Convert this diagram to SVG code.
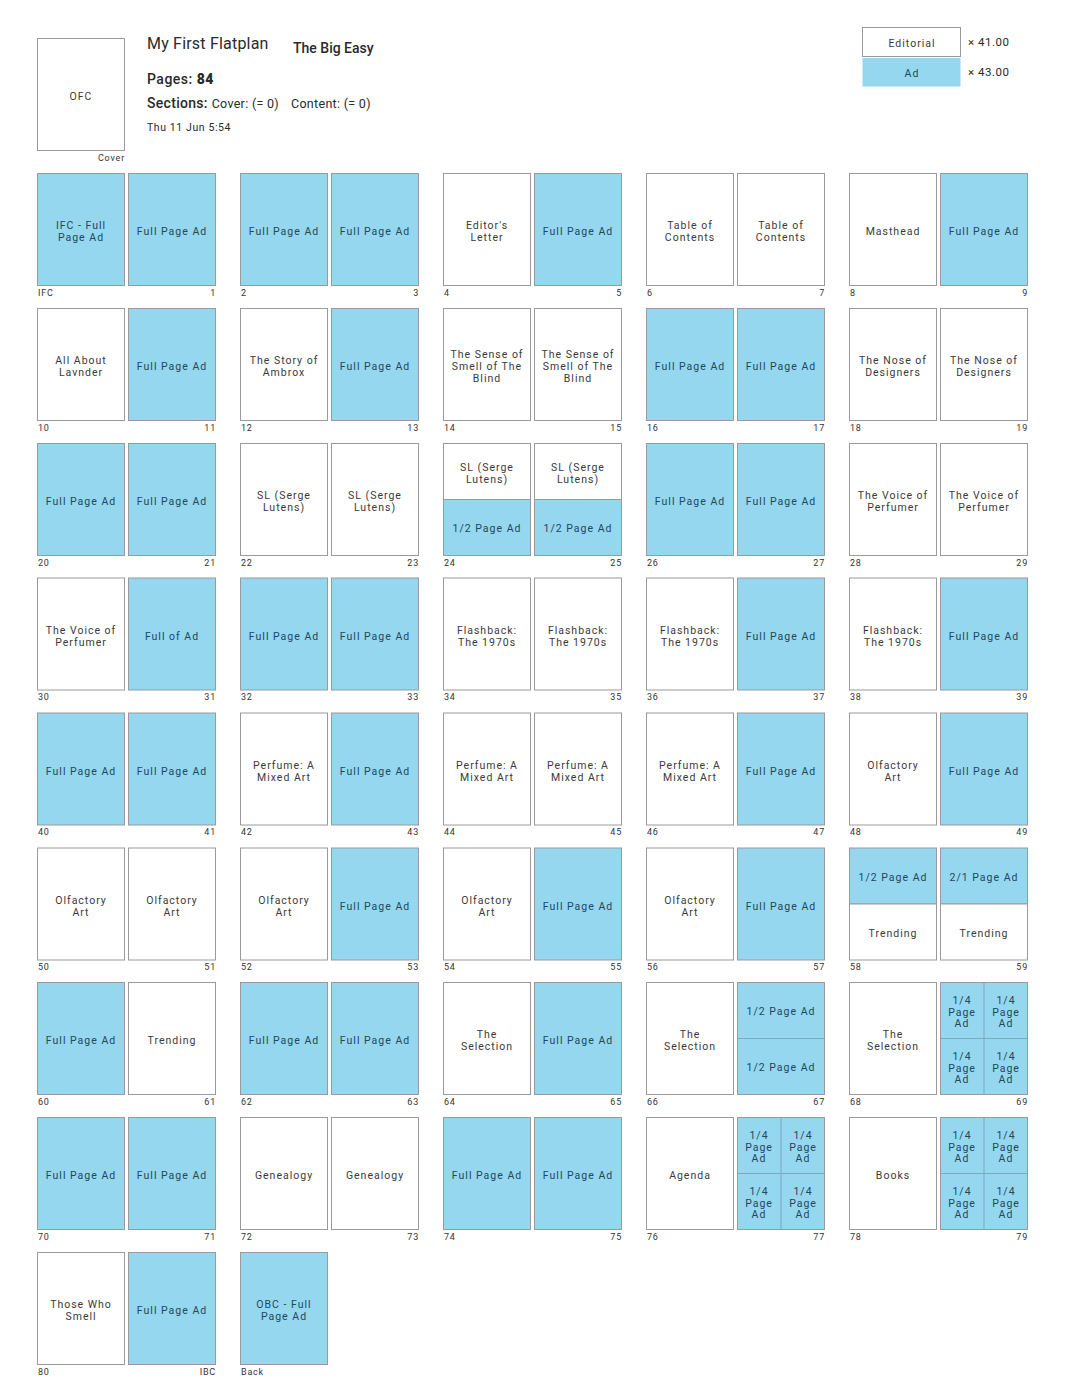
<svg xmlns="http://www.w3.org/2000/svg" width="1087" height="1392" viewBox="0 0 1087 1392">
<style>
.e{fill:#fff;stroke:#9a9a9a;stroke-width:1}
.a{fill:#94d7ef;stroke:#9a9a9a;stroke-width:1}
.d{stroke:#7aaabf;stroke-width:1}
.t{font-family:Roboto,"Liberation Sans",sans-serif;font-size:10.5px;letter-spacing:1px;text-anchor:middle}
.te{fill:#3a3a3a}
.ta{fill:#22485c}
.n{font-family:Roboto,"Liberation Sans",sans-serif;font-size:9px;letter-spacing:0.8px;fill:#333}
.r{text-anchor:end}
.h{font-family:Roboto,"Liberation Sans",sans-serif;fill:#2a2a2a}
</style>
<rect width="1087" height="1392" fill="#fff"/>
<g id="header">
<text class="h" x="147" y="48.5" font-size="16" letter-spacing="0.2">My First Flatplan</text>
<text class="h" x="293" y="53" font-size="14" font-weight="500">The Big Easy</text>
<text class="h" x="147" y="84" font-size="14" font-weight="500" letter-spacing="0.5">Pages: <tspan font-weight="900">84</tspan></text>
<text class="h" x="147" y="107.5" font-size="14" font-weight="500" letter-spacing="0.3">Sections: <tspan font-size="12.5" font-weight="400">Cover: (= 0)</tspan><tspan x="291" font-size="12.5" font-weight="400">Content: (= 0)</tspan></text>
<text class="h" x="147" y="131" font-size="10.5" letter-spacing="0.6">Thu 11 Jun 5:54</text>
</g>
<g id="legend">
<rect class="e" x="862.5" y="27.5" width="98" height="29"/>
<text class="t te" x="912" y="46.5" font-size="11">Editorial</text>
<rect x="862.5" y="58" width="98" height="28.5" fill="#94d7ef"/>
<text class="t ta" x="912" y="76.5" font-size="11">Ad</text>
<text class="h" x="968" y="46" font-size="11.5" letter-spacing="0.5">× 41.00</text>
<text class="h" x="968" y="76" font-size="11.5" letter-spacing="0.5">× 43.00</text>
</g>
<g id="page-OFC">
<rect class="e" x="37.5" y="38.5" width="87" height="112"/>
<text class="t te" x="81" y="100">OFC</text>
<text class="n r" x="125" y="160.5">Cover</text>
</g>

<!-- Row 0 -->
<g id="page-IFC"><rect class="a" x="37.5" y="173.5" width="87" height="112"/><text class="t ta" x="81" y="229">IFC - Full</text><text class="t ta" x="81" y="241">Page Ad</text><text class="n" x="38" y="295.5">IFC</text></g>
<g id="page-1"><rect class="a" x="128.5" y="173.5" width="87" height="112"/><text class="t ta" x="172" y="235">Full Page Ad</text><text class="n r" x="216" y="295.5">1</text></g>
<g id="page-2"><rect class="a" x="240.5" y="173.5" width="87" height="112"/><text class="t ta" x="284" y="235">Full Page Ad</text><text class="n" x="241" y="295.5">2</text></g>
<g id="page-3"><rect class="a" x="331.5" y="173.5" width="87" height="112"/><text class="t ta" x="375" y="235">Full Page Ad</text><text class="n r" x="419" y="295.5">3</text></g>
<g id="page-4"><rect class="e" x="443.5" y="173.5" width="87" height="112"/><text class="t te" x="487" y="229">Editor's</text><text class="t te" x="487" y="241">Letter</text><text class="n" x="444" y="295.5">4</text></g>
<g id="page-5"><rect class="a" x="534.5" y="173.5" width="87" height="112"/><text class="t ta" x="578" y="235">Full Page Ad</text><text class="n r" x="622" y="295.5">5</text></g>
<g id="page-6"><rect class="e" x="646.5" y="173.5" width="87" height="112"/><text class="t te" x="690" y="229">Table of</text><text class="t te" x="690" y="241">Contents</text><text class="n" x="647" y="295.5">6</text></g>
<g id="page-7"><rect class="e" x="737.5" y="173.5" width="87" height="112"/><text class="t te" x="781" y="229">Table of</text><text class="t te" x="781" y="241">Contents</text><text class="n r" x="825" y="295.5">7</text></g>
<g id="page-8"><rect class="e" x="849.5" y="173.5" width="87" height="112"/><text class="t te" x="893" y="235">Masthead</text><text class="n" x="850" y="295.5">8</text></g>
<g id="page-9"><rect class="a" x="940.5" y="173.5" width="87" height="112"/><text class="t ta" x="984" y="235">Full Page Ad</text><text class="n r" x="1028" y="295.5">9</text></g>

<!-- Row 1 -->
<g id="page-10"><rect class="e" x="37.5" y="308.5" width="87" height="112"/><text class="t te" x="81" y="364">All About</text><text class="t te" x="81" y="376">Lavnder</text><text class="n" x="38" y="430.5">10</text></g>
<g id="page-11"><rect class="a" x="128.5" y="308.5" width="87" height="112"/><text class="t ta" x="172" y="370">Full Page Ad</text><text class="n r" x="216" y="430.5">11</text></g>
<g id="page-12"><rect class="e" x="240.5" y="308.5" width="87" height="112"/><text class="t te" x="284" y="364">The Story of</text><text class="t te" x="284" y="376">Ambrox</text><text class="n" x="241" y="430.5">12</text></g>
<g id="page-13"><rect class="a" x="331.5" y="308.5" width="87" height="112"/><text class="t ta" x="375" y="370">Full Page Ad</text><text class="n r" x="419" y="430.5">13</text></g>
<g id="page-14"><rect class="e" x="443.5" y="308.5" width="87" height="112"/><text class="t te" x="487" y="358">The Sense of</text><text class="t te" x="487" y="370">Smell of The</text><text class="t te" x="487" y="382">Blind</text><text class="n" x="444" y="430.5">14</text></g>
<g id="page-15"><rect class="e" x="534.5" y="308.5" width="87" height="112"/><text class="t te" x="578" y="358">The Sense of</text><text class="t te" x="578" y="370">Smell of The</text><text class="t te" x="578" y="382">Blind</text><text class="n r" x="622" y="430.5">15</text></g>
<g id="page-16"><rect class="a" x="646.5" y="308.5" width="87" height="112"/><text class="t ta" x="690" y="370">Full Page Ad</text><text class="n" x="647" y="430.5">16</text></g>
<g id="page-17"><rect class="a" x="737.5" y="308.5" width="87" height="112"/><text class="t ta" x="781" y="370">Full Page Ad</text><text class="n r" x="825" y="430.5">17</text></g>
<g id="page-18"><rect class="e" x="849.5" y="308.5" width="87" height="112"/><text class="t te" x="893" y="364">The Nose of</text><text class="t te" x="893" y="376">Designers</text><text class="n" x="850" y="430.5">18</text></g>
<g id="page-19"><rect class="e" x="940.5" y="308.5" width="87" height="112"/><text class="t te" x="984" y="364">The Nose of</text><text class="t te" x="984" y="376">Designers</text><text class="n r" x="1028" y="430.5">19</text></g>

<!-- Row 2 -->
<g id="page-20"><rect class="a" x="37.5" y="443.5" width="87" height="112"/><text class="t ta" x="81" y="505">Full Page Ad</text><text class="n" x="38" y="565.5">20</text></g>
<g id="page-21"><rect class="a" x="128.5" y="443.5" width="87" height="112"/><text class="t ta" x="172" y="505">Full Page Ad</text><text class="n r" x="216" y="565.5">21</text></g>
<g id="page-22"><rect class="e" x="240.5" y="443.5" width="87" height="112"/><text class="t te" x="284" y="499">SL (Serge</text><text class="t te" x="284" y="511">Lutens)</text><text class="n" x="241" y="565.5">22</text></g>
<g id="page-23"><rect class="e" x="331.5" y="443.5" width="87" height="112"/><text class="t te" x="375" y="499">SL (Serge</text><text class="t te" x="375" y="511">Lutens)</text><text class="n r" x="419" y="565.5">23</text></g>
<g id="page-24"><rect class="e" x="443.5" y="443.5" width="87" height="56"/><rect class="a" x="443.5" y="499.5" width="87" height="56"/><text class="t te" x="487" y="471">SL (Serge</text><text class="t te" x="487" y="483">Lutens)</text><text class="t ta" x="487" y="532">1/2 Page Ad</text><text class="n" x="444" y="565.5">24</text></g>
<g id="page-25"><rect class="e" x="534.5" y="443.5" width="87" height="56"/><rect class="a" x="534.5" y="499.5" width="87" height="56"/><text class="t te" x="578" y="471">SL (Serge</text><text class="t te" x="578" y="483">Lutens)</text><text class="t ta" x="578" y="532">1/2 Page Ad</text><text class="n r" x="622" y="565.5">25</text></g>
<g id="page-26"><rect class="a" x="646.5" y="443.5" width="87" height="112"/><text class="t ta" x="690" y="505">Full Page Ad</text><text class="n" x="647" y="565.5">26</text></g>
<g id="page-27"><rect class="a" x="737.5" y="443.5" width="87" height="112"/><text class="t ta" x="781" y="505">Full Page Ad</text><text class="n r" x="825" y="565.5">27</text></g>
<g id="page-28"><rect class="e" x="849.5" y="443.5" width="87" height="112"/><text class="t te" x="893" y="499">The Voice of</text><text class="t te" x="893" y="511">Perfumer</text><text class="n" x="850" y="565.5">28</text></g>
<g id="page-29"><rect class="e" x="940.5" y="443.5" width="87" height="112"/><text class="t te" x="984" y="499">The Voice of</text><text class="t te" x="984" y="511">Perfumer</text><text class="n r" x="1028" y="565.5">29</text></g>

<!-- Row 3 -->
<g id="page-30"><rect class="e" x="37.5" y="578" width="87" height="112"/><text class="t te" x="81" y="633.5">The Voice of</text><text class="t te" x="81" y="645.5">Perfumer</text><text class="n" x="38" y="700">30</text></g>
<g id="page-31"><rect class="a" x="128.5" y="578" width="87" height="112"/><text class="t ta" x="172" y="639.5">Full of Ad</text><text class="n r" x="216" y="700">31</text></g>
<g id="page-32"><rect class="a" x="240.5" y="578" width="87" height="112"/><text class="t ta" x="284" y="639.5">Full Page Ad</text><text class="n" x="241" y="700">32</text></g>
<g id="page-33"><rect class="a" x="331.5" y="578" width="87" height="112"/><text class="t ta" x="375" y="639.5">Full Page Ad</text><text class="n r" x="419" y="700">33</text></g>
<g id="page-34"><rect class="e" x="443.5" y="578" width="87" height="112"/><text class="t te" x="487" y="633.5">Flashback:</text><text class="t te" x="487" y="645.5">The 1970s</text><text class="n" x="444" y="700">34</text></g>
<g id="page-35"><rect class="e" x="534.5" y="578" width="87" height="112"/><text class="t te" x="578" y="633.5">Flashback:</text><text class="t te" x="578" y="645.5">The 1970s</text><text class="n r" x="622" y="700">35</text></g>
<g id="page-36"><rect class="e" x="646.5" y="578" width="87" height="112"/><text class="t te" x="690" y="633.5">Flashback:</text><text class="t te" x="690" y="645.5">The 1970s</text><text class="n" x="647" y="700">36</text></g>
<g id="page-37"><rect class="a" x="737.5" y="578" width="87" height="112"/><text class="t ta" x="781" y="639.5">Full Page Ad</text><text class="n r" x="825" y="700">37</text></g>
<g id="page-38"><rect class="e" x="849.5" y="578" width="87" height="112"/><text class="t te" x="893" y="633.5">Flashback:</text><text class="t te" x="893" y="645.5">The 1970s</text><text class="n" x="850" y="700">38</text></g>
<g id="page-39"><rect class="a" x="940.5" y="578" width="87" height="112"/><text class="t ta" x="984" y="639.5">Full Page Ad</text><text class="n r" x="1028" y="700">39</text></g>

<!-- Row 4 -->
<g id="page-40"><rect class="a" x="37.5" y="713" width="87" height="112"/><text class="t ta" x="81" y="774.5">Full Page Ad</text><text class="n" x="38" y="835">40</text></g>
<g id="page-41"><rect class="a" x="128.5" y="713" width="87" height="112"/><text class="t ta" x="172" y="774.5">Full Page Ad</text><text class="n r" x="216" y="835">41</text></g>
<g id="page-42"><rect class="e" x="240.5" y="713" width="87" height="112"/><text class="t te" x="284" y="768.5">Perfume: A</text><text class="t te" x="284" y="780.5">Mixed Art</text><text class="n" x="241" y="835">42</text></g>
<g id="page-43"><rect class="a" x="331.5" y="713" width="87" height="112"/><text class="t ta" x="375" y="774.5">Full Page Ad</text><text class="n r" x="419" y="835">43</text></g>
<g id="page-44"><rect class="e" x="443.5" y="713" width="87" height="112"/><text class="t te" x="487" y="768.5">Perfume: A</text><text class="t te" x="487" y="780.5">Mixed Art</text><text class="n" x="444" y="835">44</text></g>
<g id="page-45"><rect class="e" x="534.5" y="713" width="87" height="112"/><text class="t te" x="578" y="768.5">Perfume: A</text><text class="t te" x="578" y="780.5">Mixed Art</text><text class="n r" x="622" y="835">45</text></g>
<g id="page-46"><rect class="e" x="646.5" y="713" width="87" height="112"/><text class="t te" x="690" y="768.5">Perfume: A</text><text class="t te" x="690" y="780.5">Mixed Art</text><text class="n" x="647" y="835">46</text></g>
<g id="page-47"><rect class="a" x="737.5" y="713" width="87" height="112"/><text class="t ta" x="781" y="774.5">Full Page Ad</text><text class="n r" x="825" y="835">47</text></g>
<g id="page-48"><rect class="e" x="849.5" y="713" width="87" height="112"/><text class="t te" x="893" y="768.5">Olfactory</text><text class="t te" x="893" y="780.5">Art</text><text class="n" x="850" y="835">48</text></g>
<g id="page-49"><rect class="a" x="940.5" y="713" width="87" height="112"/><text class="t ta" x="984" y="774.5">Full Page Ad</text><text class="n r" x="1028" y="835">49</text></g>

<!-- Row 5 -->
<g id="page-50"><rect class="e" x="37.5" y="848" width="87" height="112"/><text class="t te" x="81" y="903.5">Olfactory</text><text class="t te" x="81" y="915.5">Art</text><text class="n" x="38" y="970">50</text></g>
<g id="page-51"><rect class="e" x="128.5" y="848" width="87" height="112"/><text class="t te" x="172" y="903.5">Olfactory</text><text class="t te" x="172" y="915.5">Art</text><text class="n r" x="216" y="970">51</text></g>
<g id="page-52"><rect class="e" x="240.5" y="848" width="87" height="112"/><text class="t te" x="284" y="903.5">Olfactory</text><text class="t te" x="284" y="915.5">Art</text><text class="n" x="241" y="970">52</text></g>
<g id="page-53"><rect class="a" x="331.5" y="848" width="87" height="112"/><text class="t ta" x="375" y="909.5">Full Page Ad</text><text class="n r" x="419" y="970">53</text></g>
<g id="page-54"><rect class="e" x="443.5" y="848" width="87" height="112"/><text class="t te" x="487" y="903.5">Olfactory</text><text class="t te" x="487" y="915.5">Art</text><text class="n" x="444" y="970">54</text></g>
<g id="page-55"><rect class="a" x="534.5" y="848" width="87" height="112"/><text class="t ta" x="578" y="909.5">Full Page Ad</text><text class="n r" x="622" y="970">55</text></g>
<g id="page-56"><rect class="e" x="646.5" y="848" width="87" height="112"/><text class="t te" x="690" y="903.5">Olfactory</text><text class="t te" x="690" y="915.5">Art</text><text class="n" x="647" y="970">56</text></g>
<g id="page-57"><rect class="a" x="737.5" y="848" width="87" height="112"/><text class="t ta" x="781" y="909.5">Full Page Ad</text><text class="n r" x="825" y="970">57</text></g>
<g id="page-58"><rect class="a" x="849.5" y="848" width="87" height="56"/><rect class="e" x="849.5" y="904" width="87" height="56"/><text class="t ta" x="893" y="880.5">1/2 Page Ad</text><text class="t te" x="893" y="936.5">Trending</text><text class="n" x="850" y="970">58</text></g>
<g id="page-59"><rect class="a" x="940.5" y="848" width="87" height="56"/><rect class="e" x="940.5" y="904" width="87" height="56"/><text class="t ta" x="984" y="880.5">2/1 Page Ad</text><text class="t te" x="984" y="936.5">Trending</text><text class="n r" x="1028" y="970">59</text></g>

<!-- Row 6 -->
<g id="page-60"><rect class="a" x="37.5" y="982.5" width="87" height="112"/><text class="t ta" x="81" y="1044">Full Page Ad</text><text class="n" x="38" y="1104.5">60</text></g>
<g id="page-61"><rect class="e" x="128.5" y="982.5" width="87" height="112"/><text class="t te" x="172" y="1044">Trending</text><text class="n r" x="216" y="1104.5">61</text></g>
<g id="page-62"><rect class="a" x="240.5" y="982.5" width="87" height="112"/><text class="t ta" x="284" y="1044">Full Page Ad</text><text class="n" x="241" y="1104.5">62</text></g>
<g id="page-63"><rect class="a" x="331.5" y="982.5" width="87" height="112"/><text class="t ta" x="375" y="1044">Full Page Ad</text><text class="n r" x="419" y="1104.5">63</text></g>
<g id="page-64"><rect class="e" x="443.5" y="982.5" width="87" height="112"/><text class="t te" x="487" y="1038">The</text><text class="t te" x="487" y="1050">Selection</text><text class="n" x="444" y="1104.5">64</text></g>
<g id="page-65"><rect class="a" x="534.5" y="982.5" width="87" height="112"/><text class="t ta" x="578" y="1044">Full Page Ad</text><text class="n r" x="622" y="1104.5">65</text></g>
<g id="page-66"><rect class="e" x="646.5" y="982.5" width="87" height="112"/><text class="t te" x="690" y="1038">The</text><text class="t te" x="690" y="1050">Selection</text><text class="n" x="647" y="1104.5">66</text></g>
<g id="page-67"><rect class="a" x="737.5" y="982.5" width="87" height="112"/><line class="d" x1="738" y1="1038.5" x2="824" y2="1038.5"/><text class="t ta" x="781" y="1015">1/2 Page Ad</text><text class="t ta" x="781" y="1071">1/2 Page Ad</text><text class="n r" x="825" y="1104.5">67</text></g>
<g id="page-68"><rect class="e" x="849.5" y="982.5" width="87" height="112"/><text class="t te" x="893" y="1038">The</text><text class="t te" x="893" y="1050">Selection</text><text class="n" x="850" y="1104.5">68</text></g>
<g id="page-69"><rect class="a" x="940.5" y="982.5" width="87" height="112"/><line class="d" x1="941" y1="1038.5" x2="1027" y2="1038.5"/><line class="d" x1="984" y1="983" x2="984" y2="1094"/>
<text class="t ta" x="962" y="1004">1/4</text><text class="t ta" x="962" y="1015.5">Page</text><text class="t ta" x="962" y="1027">Ad</text>
<text class="t ta" x="1006" y="1004">1/4</text><text class="t ta" x="1006" y="1015.5">Page</text><text class="t ta" x="1006" y="1027">Ad</text>
<text class="t ta" x="962" y="1060">1/4</text><text class="t ta" x="962" y="1071.5">Page</text><text class="t ta" x="962" y="1083">Ad</text>
<text class="t ta" x="1006" y="1060">1/4</text><text class="t ta" x="1006" y="1071.5">Page</text><text class="t ta" x="1006" y="1083">Ad</text>
<text class="n r" x="1028" y="1104.5">69</text></g>

<!-- Row 7 -->
<g id="page-70"><rect class="a" x="37.5" y="1117.5" width="87" height="112"/><text class="t ta" x="81" y="1179">Full Page Ad</text><text class="n" x="38" y="1239.5">70</text></g>
<g id="page-71"><rect class="a" x="128.5" y="1117.5" width="87" height="112"/><text class="t ta" x="172" y="1179">Full Page Ad</text><text class="n r" x="216" y="1239.5">71</text></g>
<g id="page-72"><rect class="e" x="240.5" y="1117.5" width="87" height="112"/><text class="t te" x="284" y="1179">Genealogy</text><text class="n" x="241" y="1239.5">72</text></g>
<g id="page-73"><rect class="e" x="331.5" y="1117.5" width="87" height="112"/><text class="t te" x="375" y="1179">Genealogy</text><text class="n r" x="419" y="1239.5">73</text></g>
<g id="page-74"><rect class="a" x="443.5" y="1117.5" width="87" height="112"/><text class="t ta" x="487" y="1179">Full Page Ad</text><text class="n" x="444" y="1239.5">74</text></g>
<g id="page-75"><rect class="a" x="534.5" y="1117.5" width="87" height="112"/><text class="t ta" x="578" y="1179">Full Page Ad</text><text class="n r" x="622" y="1239.5">75</text></g>
<g id="page-76"><rect class="e" x="646.5" y="1117.5" width="87" height="112"/><text class="t te" x="690" y="1179">Agenda</text><text class="n" x="647" y="1239.5">76</text></g>
<g id="page-77"><rect class="a" x="737.5" y="1117.5" width="87" height="112"/><line class="d" x1="738" y1="1173.5" x2="824" y2="1173.5"/><line class="d" x1="781" y1="1118" x2="781" y2="1229"/>
<text class="t ta" x="759" y="1139">1/4</text><text class="t ta" x="759" y="1150.5">Page</text><text class="t ta" x="759" y="1162">Ad</text>
<text class="t ta" x="803" y="1139">1/4</text><text class="t ta" x="803" y="1150.5">Page</text><text class="t ta" x="803" y="1162">Ad</text>
<text class="t ta" x="759" y="1195">1/4</text><text class="t ta" x="759" y="1206.5">Page</text><text class="t ta" x="759" y="1218">Ad</text>
<text class="t ta" x="803" y="1195">1/4</text><text class="t ta" x="803" y="1206.5">Page</text><text class="t ta" x="803" y="1218">Ad</text>
<text class="n r" x="825" y="1239.5">77</text></g>
<g id="page-78"><rect class="e" x="849.5" y="1117.5" width="87" height="112"/><text class="t te" x="893" y="1179">Books</text><text class="n" x="850" y="1239.5">78</text></g>
<g id="page-79"><rect class="a" x="940.5" y="1117.5" width="87" height="112"/><line class="d" x1="941" y1="1173.5" x2="1027" y2="1173.5"/><line class="d" x1="984" y1="1118" x2="984" y2="1229"/>
<text class="t ta" x="962" y="1139">1/4</text><text class="t ta" x="962" y="1150.5">Page</text><text class="t ta" x="962" y="1162">Ad</text>
<text class="t ta" x="1006" y="1139">1/4</text><text class="t ta" x="1006" y="1150.5">Page</text><text class="t ta" x="1006" y="1162">Ad</text>
<text class="t ta" x="962" y="1195">1/4</text><text class="t ta" x="962" y="1206.5">Page</text><text class="t ta" x="962" y="1218">Ad</text>
<text class="t ta" x="1006" y="1195">1/4</text><text class="t ta" x="1006" y="1206.5">Page</text><text class="t ta" x="1006" y="1218">Ad</text>
<text class="n r" x="1028" y="1239.5">79</text></g>

<!-- Row 8 -->
<g id="page-80"><rect class="e" x="37.5" y="1252.5" width="87" height="112"/><text class="t te" x="81" y="1308">Those Who</text><text class="t te" x="81" y="1320">Smell</text><text class="n" x="38" y="1374.5">80</text></g>
<g id="page-IBC"><rect class="a" x="128.5" y="1252.5" width="87" height="112"/><text class="t ta" x="172" y="1314">Full Page Ad</text><text class="n r" x="216" y="1374.5">IBC</text></g>
<g id="page-Back"><rect class="a" x="240.5" y="1252.5" width="87" height="112"/><text class="t ta" x="284" y="1308">OBC - Full</text><text class="t ta" x="284" y="1320">Page Ad</text><text class="n" x="241" y="1374.5">Back</text></g>
<g id="connectors"></g>
</svg>
